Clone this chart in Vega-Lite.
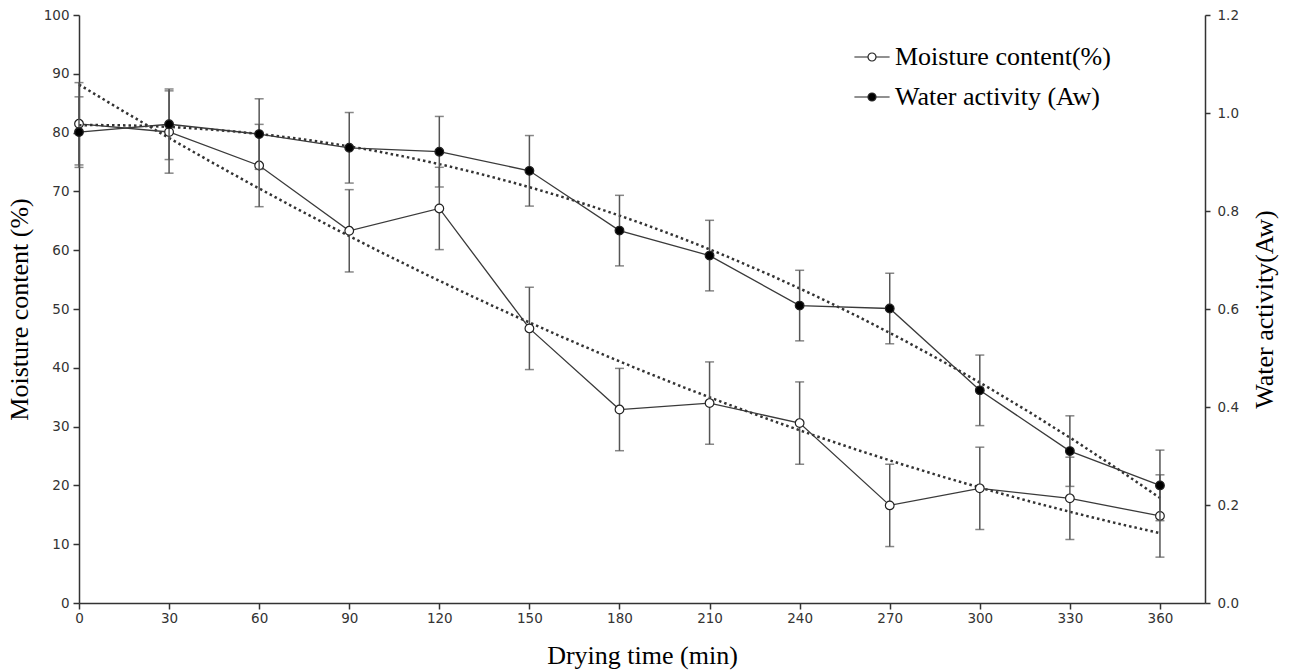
{
  "$schema": "https://vega.github.io/schema/vega-lite/v6.json",
  "width": 1126,
  "height": 588,
  "autosize": {"type": "none"},
  "padding": {"left": 79, "top": 15, "right": 86, "bottom": 69},
  "background": "white",
  "config": {
    "view": {"stroke": null},
    "axis": {
      "grid": false,
      "domainColor": "#333",
      "domainWidth": 1.5,
      "tickColor": "#333",
      "tickWidth": 1.5,
      "labelFont": "DejaVu Sans",
      "labelFontSize": 13.5,
      "labelColor": "#333",
      "titleFont": "Liberation Serif",
      "titleFontSize": 26,
      "titleFontWeight": "normal",
      "titleColor": "#000"
    },
    "legend": {
      "labelFont": "Liberation Serif",
      "labelFontSize": 26,
      "labelColor": "#000",
      "labelLimit": 0
    }
  },
  "data": {
    "values": [
      {"t": 0, "m": 81.5, "m_lo": 74.5, "m_hi": 88.5, "w": 0.961, "w_lo": 0.889, "w_hi": 1.033},
      {"t": 30, "m": 80.1, "m_lo": 73.1, "m_hi": 87.1, "w": 0.977, "w_lo": 0.905, "w_hi": 1.049},
      {"t": 60, "m": 74.4, "m_lo": 67.4, "m_hi": 81.4, "w": 0.957, "w_lo": 0.885, "w_hi": 1.029},
      {"t": 90, "m": 63.3, "m_lo": 56.3, "m_hi": 70.3, "w": 0.929, "w_lo": 0.857, "w_hi": 1.001},
      {"t": 120, "m": 67.1, "m_lo": 60.1, "m_hi": 74.1, "w": 0.921, "w_lo": 0.849, "w_hi": 0.993},
      {"t": 150, "m": 46.7, "m_lo": 39.7, "m_hi": 53.7, "w": 0.882, "w_lo": 0.810, "w_hi": 0.954},
      {"t": 180, "m": 32.9, "m_lo": 25.9, "m_hi": 39.9, "w": 0.760, "w_lo": 0.688, "w_hi": 0.832},
      {"t": 210, "m": 34.0, "m_lo": 27.0, "m_hi": 41.0, "w": 0.709, "w_lo": 0.637, "w_hi": 0.781},
      {"t": 240, "m": 30.6, "m_lo": 23.6, "m_hi": 37.6, "w": 0.607, "w_lo": 0.535, "w_hi": 0.679},
      {"t": 270, "m": 16.6, "m_lo": 9.6, "m_hi": 23.6, "w": 0.601, "w_lo": 0.529, "w_hi": 0.673},
      {"t": 300, "m": 19.5, "m_lo": 12.5, "m_hi": 26.5, "w": 0.434, "w_lo": 0.362, "w_hi": 0.506},
      {"t": 330, "m": 17.8, "m_lo": 10.8, "m_hi": 24.8, "w": 0.310, "w_lo": 0.238, "w_hi": 0.382},
      {"t": 360, "m": 14.8, "m_lo": 7.8, "m_hi": 21.8, "w": 0.240, "w_lo": 0.168, "w_hi": 0.312}
    ]
  },
  "encoding": {
    "x": {
      "field": "t",
      "type": "quantitative",
      "scale": {"domain": [0, 375], "nice": false, "zero": false},
      "axis": {
        "title": "Drying time (min)",
        "values": [0, 30, 60, 90, 120, 150, 180, 210, 240, 270, 300, 330, 360],
        "tickSize": 6,
        "labelPadding": 2,
        "titlePadding": 18,
        "labelFlush": false,
        "labelOverlap": false
      }
    }
  },
  "layer": [
    {
      "layer": [
        {
          "transform": [{"regression": "m", "on": "t", "method": "poly", "order": 2, "extent": [0, 360]}],
          "mark": {"type": "line", "color": "#333", "strokeWidth": 2.5, "strokeDash": [2.5, 3]},
          "encoding": {
            "y": {"field": "m", "type": "quantitative", "scale": {"domain": [0, 100], "nice": false},
              "axis": {"orient": "left", "title": "Moisture content (%)", "values": [0,10,20,30,40,50,60,70,80,90,100], "tickSize": 6, "labelPadding": 4, "titlePadding": 11}}
          }
        },
        {
          "mark": {"type": "rule", "color": "#555", "strokeWidth": 1.5},
          "encoding": {
            "y": {"field": "m_lo", "type": "quantitative", "scale": {"domain": [0, 100], "nice": false},
              "axis": {"orient": "left", "title": "Moisture content (%)", "values": [0,10,20,30,40,50,60,70,80,90,100], "tickSize": 6, "labelPadding": 4, "titlePadding": 11}},
            "y2": {"field": "m_hi"}
          }
        },
        {
          "mark": {"type": "tick", "orient": "horizontal", "color": "#555", "size": 9, "thickness": 1.5},
          "encoding": {
            "y": {"field": "m_hi", "type": "quantitative", "scale": {"domain": [0, 100], "nice": false},
              "axis": {"orient": "left", "title": "Moisture content (%)", "values": [0,10,20,30,40,50,60,70,80,90,100], "tickSize": 6, "labelPadding": 4, "titlePadding": 11}}
          }
        },
        {
          "mark": {"type": "tick", "orient": "horizontal", "color": "#555", "size": 9, "thickness": 1.5},
          "encoding": {
            "y": {"field": "m_lo", "type": "quantitative", "scale": {"domain": [0, 100], "nice": false},
              "axis": {"orient": "left", "title": "Moisture content (%)", "values": [0,10,20,30,40,50,60,70,80,90,100], "tickSize": 6, "labelPadding": 4, "titlePadding": 11}}
          }
        },
        {
          "mark": {"type": "line", "color": "#3a3a3a", "strokeWidth": 1.3},
          "encoding": {
            "y": {"field": "m", "type": "quantitative", "scale": {"domain": [0, 100], "nice": false},
              "axis": {"orient": "left", "title": "Moisture content (%)", "values": [0,10,20,30,40,50,60,70,80,90,100], "tickSize": 6, "labelPadding": 4, "titlePadding": 11}}
          }
        },
        {
          "mark": {"type": "point", "shape": "circle", "filled": true, "size": 75, "stroke": "#222", "strokeWidth": 1.2, "opacity": 1},
          "encoding": {
            "y": {"field": "m", "type": "quantitative", "scale": {"domain": [0, 100], "nice": false},
              "axis": {"orient": "left", "title": "Moisture content (%)", "values": [0,10,20,30,40,50,60,70,80,90,100], "tickSize": 6, "labelPadding": 4, "titlePadding": 11}},
            "fill": {
              "datum": "Moisture content(%)",
              "type": "nominal",
              "scale": {"domain": ["Moisture content(%)", "Water activity (Aw)"], "range": ["white", "black"]},
              "legend": {
                "title": null,
                "orient": "none",
                "legendX": 780,
                "legendY": 29,
                "padding": 0,
                "symbolType": "M-4.4,0H-1A1,1 0 1,1 1,0A1,1 0 1,1 -1,0M1,0H4.4",
                "symbolSize": 64,
                "symbolStrokeColor": "#222",
                "symbolStrokeWidth": 1.2,
                "symbolOpacity": 1,
                "labelOffset": 10,
                "labelLimit": 0,
                "rowPadding": 14
              }
            }
          }
        }
      ]
    },
    {
      "layer": [
        {
          "transform": [{"regression": "w", "on": "t", "method": "poly", "order": 2, "extent": [0, 360]}],
          "mark": {"type": "line", "color": "#333", "strokeWidth": 2.5, "strokeDash": [2.5, 3]},
          "encoding": {
            "y": {"field": "w", "type": "quantitative", "scale": {"domain": [0, 1.2], "nice": false},
              "axis": {"orient": "right", "title": "Water activity(Aw)", "values": [0, 0.2, 0.4, 0.6, 0.8, 1.0, 1.2], "format": ".1f", "tickSize": 5, "labelPadding": 7, "titlePadding": 39, "titleAngle": 270}}
          }
        },
        {
          "mark": {"type": "rule", "color": "#555", "strokeWidth": 1.5},
          "encoding": {
            "y": {"field": "w_lo", "type": "quantitative", "scale": {"domain": [0, 1.2], "nice": false},
              "axis": {"orient": "right", "title": "Water activity(Aw)", "values": [0, 0.2, 0.4, 0.6, 0.8, 1.0, 1.2], "format": ".1f", "tickSize": 5, "labelPadding": 7, "titlePadding": 39, "titleAngle": 270}},
            "y2": {"field": "w_hi"}
          }
        },
        {
          "mark": {"type": "tick", "orient": "horizontal", "color": "#555", "size": 9, "thickness": 1.5},
          "encoding": {
            "y": {"field": "w_hi", "type": "quantitative", "scale": {"domain": [0, 1.2], "nice": false},
              "axis": {"orient": "right", "title": "Water activity(Aw)", "values": [0, 0.2, 0.4, 0.6, 0.8, 1.0, 1.2], "format": ".1f", "tickSize": 5, "labelPadding": 7, "titlePadding": 39, "titleAngle": 270}}
          }
        },
        {
          "mark": {"type": "tick", "orient": "horizontal", "color": "#555", "size": 9, "thickness": 1.5},
          "encoding": {
            "y": {"field": "w_lo", "type": "quantitative", "scale": {"domain": [0, 1.2], "nice": false},
              "axis": {"orient": "right", "title": "Water activity(Aw)", "values": [0, 0.2, 0.4, 0.6, 0.8, 1.0, 1.2], "format": ".1f", "tickSize": 5, "labelPadding": 7, "titlePadding": 39, "titleAngle": 270}}
          }
        },
        {
          "mark": {"type": "line", "color": "#3a3a3a", "strokeWidth": 1.3},
          "encoding": {
            "y": {"field": "w", "type": "quantitative", "scale": {"domain": [0, 1.2], "nice": false},
              "axis": {"orient": "right", "title": "Water activity(Aw)", "values": [0, 0.2, 0.4, 0.6, 0.8, 1.0, 1.2], "format": ".1f", "tickSize": 5, "labelPadding": 7, "titlePadding": 39, "titleAngle": 270}}
          }
        },
        {
          "mark": {"type": "point", "shape": "circle", "filled": true, "size": 75, "stroke": "#222", "strokeWidth": 1.2, "opacity": 1},
          "encoding": {
            "y": {"field": "w", "type": "quantitative", "scale": {"domain": [0, 1.2], "nice": false},
              "axis": {"orient": "right", "title": "Water activity(Aw)", "values": [0, 0.2, 0.4, 0.6, 0.8, 1.0, 1.2], "format": ".1f", "tickSize": 5, "labelPadding": 7, "titlePadding": 39, "titleAngle": 270}},
            "fill": {
              "datum": "Water activity (Aw)",
              "type": "nominal",
              "scale": {"domain": ["Moisture content(%)", "Water activity (Aw)"], "range": ["white", "black"]}
            }
          }
        }
      ]
    }
  ],
  "resolve": {"scale": {"y": "independent"}}
}
